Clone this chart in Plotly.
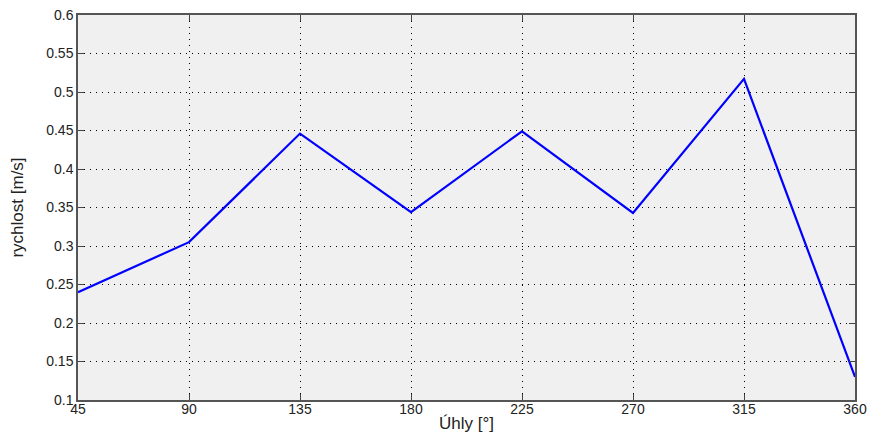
import plotly.graph_objects as go

angles = [45, 90, 135, 180, 225, 270, 315, 360]
speed = [0.240, 0.305, 0.446, 0.344, 0.449, 0.343, 0.517, 0.130]
y_ticks = [0.1, 0.15, 0.2, 0.25, 0.3, 0.35, 0.4, 0.45, 0.5, 0.55, 0.6]
y_tick_text = ["0.1", "0.15", "0.2", "0.25", "0.3", "0.35", "0.4", "0.45", "0.5", "0.55", "0.6"]

fig = go.Figure()
fig.add_trace(go.Scatter(x=angles, y=speed, mode="lines",
                         line=dict(color="#0000ff", width=2.2), showlegend=False))

font = dict(family="Liberation Sans, Arial, sans-serif", size=14, color="#222222")
fig.update_layout(
    width=870, height=439,
    margin=dict(l=78, r=15, t=15, b=39),
    paper_bgcolor="white", plot_bgcolor="#f0f0f0",
    font=font,
    xaxis=dict(range=[45, 360], tickvals=angles, ticktext=[str(a) for a in angles],
               showgrid=True, gridcolor="black", griddash="1px,5px", gridwidth=1,
               ticks="inside", ticklen=6, tickcolor="#444444",
               showline=True, linecolor="#555555", linewidth=1.5, mirror="allticks",
               zeroline=False, automargin=False, ticklabelstandoff=-5,
               ticklabeloverflow="allow",
               title=dict(text="Úhly [°]", standoff=2)),
    yaxis=dict(range=[0.1, 0.6], tickvals=y_ticks, ticktext=y_tick_text,
               showgrid=True, gridcolor="black", griddash="1px,5px", gridwidth=1,
               ticks="inside", ticklen=6, tickcolor="#444444",
               showline=True, linecolor="#555555", linewidth=1.5, mirror="allticks",
               zeroline=False, automargin=False, ticklabeloverflow="allow",
               title=dict(text="rychlost [m/s]", standoff=18)),
)
fig.write_html("out.html", config={"displayModeBar": False},
               post_script="document.body.style.margin='0';document.body.style.overflow='hidden';")
